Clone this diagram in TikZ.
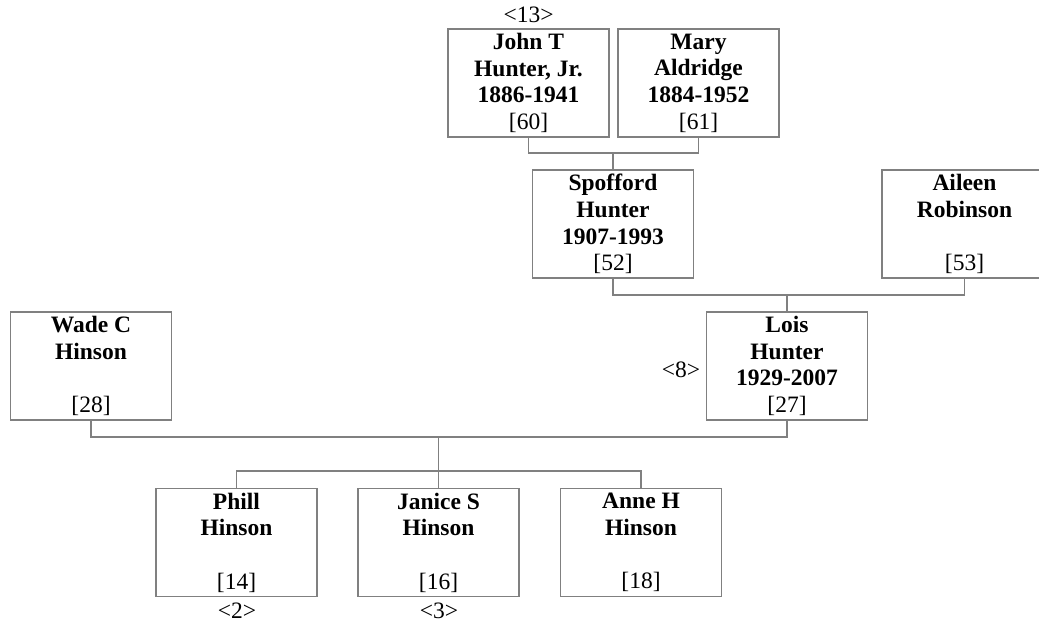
\documentclass[tikz,border=0pt]{standalone}
\usepackage{fontspec}
\setmainfont{Liberation Serif}
\definecolor{lg}{RGB}{128,128,128}
\tikzset{
  person/.style={draw=lg, line width=1.2pt, minimum width=161pt, minimum height=108pt,
    inner sep=0pt, align=center, font=\fontsize{23.5}{26.7}\selectfont},
  link/.style={draw=lg, line width=1.2pt},
  tag/.style={inner sep=0pt, font=\fontsize{23.5}{26.7}\selectfont}
}
\begin{document}
\begin{tikzpicture}[x=1pt,y=-1pt]
\useasboundingbox (0,0) rectangle (1039,626);
\node[person] (john) at (528.5,83) {\textbf{John T}\\\textbf{Hunter, Jr.}\\\textbf{1886-1941}\\{[60]}};
\node[person] (mary) at (698.5,83) {\textbf{Mary}\\\textbf{Aldridge}\\\textbf{1884-1952}\\{[61]}};
\node[person] (spofford) at (613,224) {\textbf{Spofford}\\\textbf{Hunter}\\\textbf{1907-1993}\\{[52]}};
\node[person, minimum width=165pt] (aileen) at (964.5,224) {\textbf{Aileen}\\\textbf{Robinson}\\\mbox{}\\{[53]}};
\node[person] (wade) at (91,366) {\textbf{Wade C}\\\textbf{Hinson}\\\mbox{}\\{[28]}};
\node[person] (lois) at (787,366) {\textbf{Lois}\\\textbf{Hunter}\\\textbf{1929-2007}\\{[27]}};
\node[person] (phill) at (236.5,542.5) {\textbf{Phill}\\\textbf{Hinson}\\\mbox{}\\{[14]}};
\node[person] (janice) at (438.5,542.5) {\textbf{Janice S}\\\textbf{Hinson}\\\mbox{}\\{[16]}};
\node[person] (anne) at (641,542.5) {\textbf{Anne H}\\\textbf{Hinson}\\\mbox{}\\{[18]}};
\node[tag] (t13) at (528.5,15) {<13>};
\node[tag] (t8) at (681,370) {<8>};
\node[tag] (t2) at (237,611) {<2>};
\node[tag] (t3) at (439,611) {<3>};
\coordinate (p1) at (613,153);
\coordinate (p2) at (787,295);
\coordinate (p3) at (438.5,437);
\coordinate (c3) at (438.5,471);
\draw[link] (john.south) |- (p1) -| (mary.south);
\draw[link] (p1) -- (spofford.north);
\draw[link] (spofford.south) |- (p2) -| (aileen.south);
\draw[link] (p2) -- (lois.north);
\draw[link] (wade.south) |- (p3) -| (lois.south);
\draw[link] (p3) -- (janice.north);
\draw[link] (phill.north) |- (c3) -| (anne.north);
\end{tikzpicture}
\end{document}
